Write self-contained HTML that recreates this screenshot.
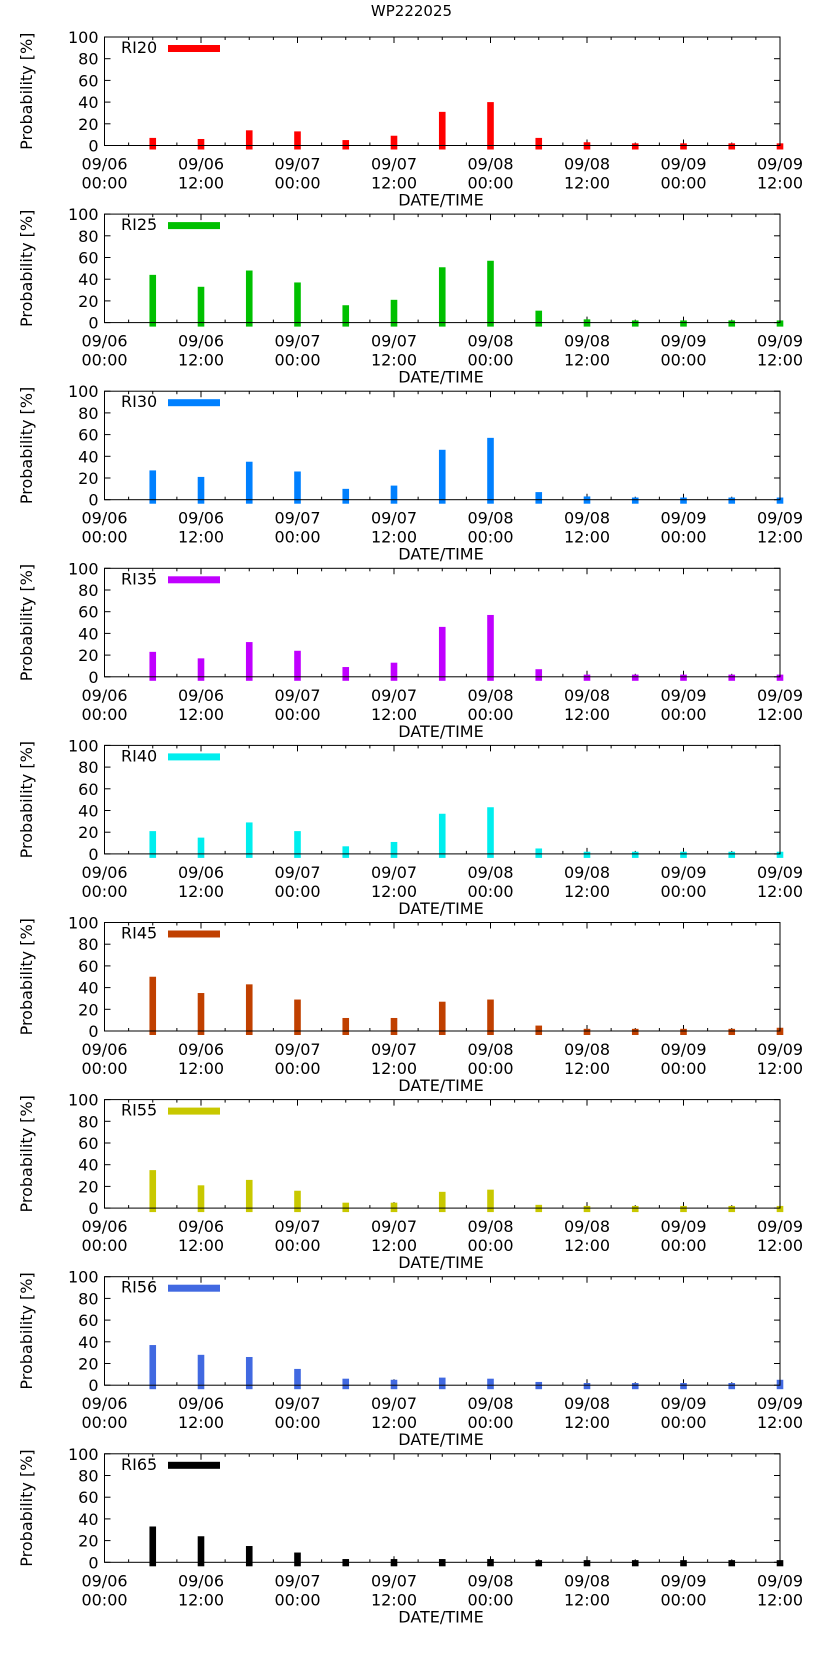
<!DOCTYPE html>
<html><head><meta charset="utf-8"><style>
body{margin:0;background:#fff}
svg{display:block;font-family:"DejaVu Sans","Liberation Sans",sans-serif}
</style></head><body>
<svg id="c" width="823" height="1653"></svg>
<script>
const panelNames=["RI20","RI25","RI30","RI35","RI40","RI45","RI55","RI56","RI65"];
const panelColors=["#ff0000","#00c000","#0080ff","#c000ff","#00eeee","#c04000","#c8c800","#4169e1","#000000"];
const hours=[6,12,18,24,30,36,42,48,54,60,66,72,78,84];
const ri20=[7,6,14,13,5,9,31,40,7,3,2,2,2,2];
const ri25=[44,33,48,37,16,21,51,57,11,3,2,2,2,2];
const ri30=[27,21,35,26,10,13,46,57,7,3,2,2,2,2];
const ri35=[23,17,32,24,9,13,46,57,7,2,2,2,2,2];
const ri40=[21,15,29,21,7,11,37,43,5,2,2,2,2,2];
const ri45=[50,35,43,29,12,12,27,29,5,2,2,2,2,3];
const ri55=[35,21,26,16,5,5,15,17,3,2,2,2,2,2];
const ri56=[37,28,26,15,6,5,7,6,3,2,2,2,2,5];
const ri65=[33,24,15,9,3,3,3,3,2,2,2,2,2,2];
const series=[ri20,ri25,ri30,ri35,ri40,ri45,ri55,ri56,ri65];
const xTickHours=[0,12,24,36,48,60,72,84];
const xTickTop=["09/06","09/06","09/07","09/07","09/08","09/08","09/09","09/09"];
const xTickBot=["00:00","12:00","00:00","12:00","00:00","12:00","00:00","12:00"];
const yTicks=[0,20,40,60,80,100];

const svg=document.getElementById('c');
const NS="http://www.w3.org/2000/svg";
const L=104.5,R=780,H=108.5,Z0=145.5,STEP=177.1;
function sx(h){return L+(R-L)*h/84;}
function mk(t,a,p){const e=document.createElementNS(NS,t);for(const k in a)e.setAttribute(k,a[k]);(p||svg).appendChild(e);return e;}

const title=mk('text',{x:411.5,y:16,'text-anchor':'middle','font-size':15});
title.textContent="WP222025";



series.forEach((vals,pi)=>{
  const z=Z0+pi*STEP, top=z-H;
  const sy=v=>z-H*v/100;
  const g=mk('g',{});
  
  
  for(let h=3;h<84;h+=3){
    const big=h%12===0, len=big?6:3;
    mk('line',{x1:sx(h),x2:sx(h),y1:z,y2:z-len,stroke:'#000','stroke-width':1},g);
    mk('line',{x1:sx(h),x2:sx(h),y1:top,y2:top+len,stroke:'#000','stroke-width':1},g);
  }
  yTicks.forEach(v=>{
    mk('line',{x1:L,x2:L+6,y1:sy(v),y2:sy(v),stroke:'#000'},g);
    mk('line',{x1:R,x2:R-6,y1:sy(v),y2:sy(v),stroke:'#000'},g);
    const t=mk('text',{x:L-6,y:sy(v)+6,'text-anchor':'end','font-size':16},g);
    t.textContent=v;
    
    
  });
  vals.forEach((v,i)=>{
    const x=sx(hours[i]);
    const b=mk('rect',{x:x-3.3,y:sy(v),width:6.6,height:z+4-sy(v),fill:panelColors[pi]},g);
    
    
  });
  mk('rect',{x:L,y:top,width:R-L,height:H,fill:'none',stroke:'#000','stroke-width':1},g);
  xTickHours.forEach((h,i)=>{
    const t1=mk('text',{x:sx(h),y:z+24,'text-anchor':'middle','font-size':16},g);
    t1.textContent=xTickTop[i];
    
    
    const t2=mk('text',{x:sx(h),y:z+43,'text-anchor':'middle','font-size':16},g);
    t2.textContent=xTickBot[i];
    
    
  });
  const xl=mk('text',{x:441,y:z+60,'text-anchor':'middle','font-size':16},g);
  xl.textContent="DATE/TIME";
  
  
  const yl=mk('text',{x:0,y:0,'text-anchor':'middle','font-size':16,transform:`translate(32,${z-H/2}) rotate(-90)`},g);
  yl.textContent="Probability [%]";
  
  
  const lt=mk('text',{x:121,y:top+16,'font-size':16},g);
  lt.textContent=panelNames[pi];
  
  
  const ls=mk('rect',{x:168,y:top+8,width:52,height:7,fill:panelColors[pi]},g);
  
  
});
</script>
</body></html>
